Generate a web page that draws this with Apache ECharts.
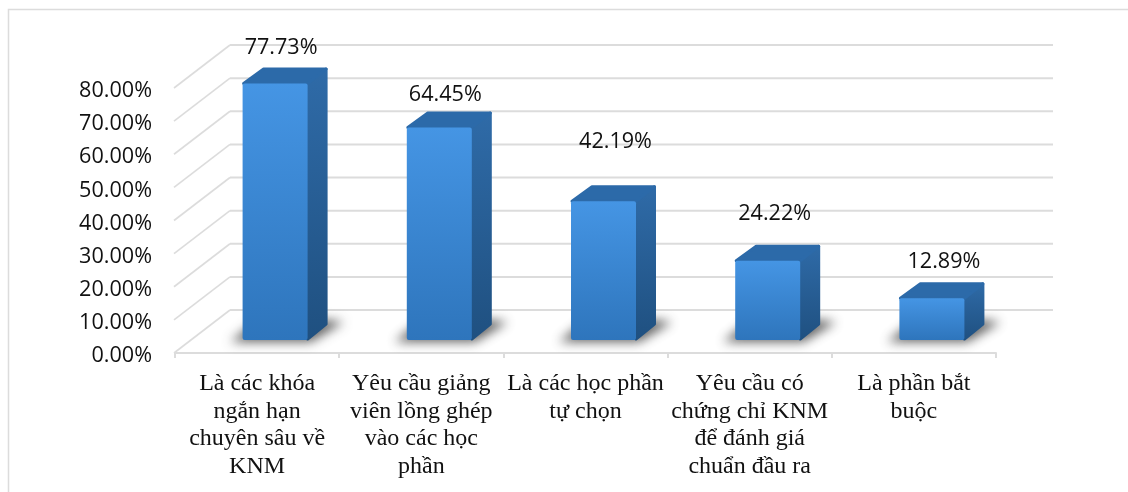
<!DOCTYPE html>
<html><head><meta charset="utf-8">
<style>html,body{margin:0;padding:0;background:#fff;overflow:hidden}#c{width:1128px;height:492px}</style>
<script src="https://cdn.jsdelivr.net/npm/echarts@6/dist/echarts.min.js"></script>
</head><body><div id="c"></div>
<script>
const categories = [
  'Là các khóa\nngắn hạn\nchuyên sâu về\nKNM',
  'Yêu cầu giảng\nviên lồng ghép\nvào các học\nphần',
  'Là các học phần\ntự chọn',
  'Yêu cầu có\nchứng chỉ KNM\nđể đánh giá\nchuẩn đầu ra',
  'Là phần bắt\nbuộc'
];
const values = [77.73, 64.45, 42.19, 24.22, 12.89];
const yTicks = [0, 10, 20, 30, 40, 50, 60, 70, 80];
// manual data-label placement, relative to category centre / bar height
const labelDx = [24, 24, 30, 25, 30];
const labelDy = [-48, -45, -71, -59, -48];

const WALL_DX = 55, WALL_DY = -43;
const FRONT_DX = 18, FRONT_DY = -13, BACK_DX = 38, BACK_DY = -29;
const BAR_W = 65;
const GRID = '#dcdcdc';
const OFF = 3000;

function grad(c0, c1){ return {type:'linear',x:0,y:0,x2:0,y2:1,colorStops:[{offset:0,color:c0},{offset:1,color:c1}]}; }

function renderWall(params, api){
  const p = api.coord([0, api.value(1)]);
  const x0 = params.coordSys.x, x1 = x0 + params.coordSys.width;
  const y = p[1];
  return {type:'group', children:[
    {type:'line', shape:{x1:x0-1,y1:y,x2:x0+WALL_DX,y2:y+WALL_DY}, style:{stroke:GRID,lineWidth:1.6}},
    {type:'line', shape:{x1:x0+WALL_DX,y1:y+WALL_DY,x2:x1+WALL_DX+2,y2:y+WALL_DY}, style:{stroke:GRID,lineWidth:2}}
  ]};
}

function renderBar(params, api){
  const i = api.value(0), v = api.value(1);
  const top = api.coord([i, v]), base = api.coord([i, 0]);
  const cx = top[0];
  const xl = cx + FRONT_DX - BAR_W/2, xr = xl + BAR_W;
  const yt = top[1] + FRONT_DY + 1, yb = base[1] + FRONT_DY;
  const bx = BACK_DX - FRONT_DX, by = BACK_DY - FRONT_DY;
  const r = 2;
  const sh = [[xl-12,yb+2],[xr+3,yb+2],[xr+bx+16,yb+by-2],[xr+bx,yb+by-4],[xl+10,yb+by]].map(q=>[q[0]-OFF,q[1]]);
  const sideG = grad('#2f6ba8','#1f5080');
  return {type:'group', children:[
    {type:'polygon', shape:{points:sh},
      style:{fill:'#555',shadowBlur:11,shadowOffsetX:OFF,shadowOffsetY:0,shadowColor:'rgba(70,70,70,0.85)'}},
    {type:'polygon', shape:{points:[[xr,yt],[xr+bx-1.5,yt+by+1.5],[xr+bx-1.5,yb+by],[xr,yb-1]]},
      style:{fill:sideG,stroke:sideG,lineWidth:3,lineJoin:'round'}},
    {type:'polygon', shape:{points:[[xl+1,yt],[xl+bx+1,yt+by+1.5],[xr+bx-1.5,yt+by+1.5],[xr,yt]]},
      style:{fill:'#2c6aa9',stroke:'#2c6aa9',lineWidth:3,lineJoin:'round'}},
    {type:'rect', shape:{x:xl,y:yt,width:BAR_W,height:yb-yt,r:r},
      style:{fill:grad('#4595e4','#2e75bc')}},
    {type:'text', style:{x:cx+labelDx[i], y:top[1]+labelDy[i], text:values[i].toFixed(2)+'%',
      textAlign:'center', textVerticalAlign:'middle', fill:'#111', font:'21.6px "Open Sans"'}}
  ]};
}

const chart = echarts.init(document.getElementById('c'), null, {renderer:'canvas'});
chart.setOption({
  animation:false,
  backgroundColor:'#fff',
  graphic:[{type:'polyline', silent:true, shape:{points:[[8.5,500],[8.5,9.5],[1140,9.5]]},
    style:{stroke:'#dcdcdc',fill:null,lineWidth:1.5}}],
  grid:{left:175,right:132,top:88,bottom:139},
  xAxis:{type:'category',data:categories,
    axisLine:{lineStyle:{color:GRID,width:2}},
    axisTick:{show:true,length:5,lineStyle:{color:GRID,width:2}},
    axisLabel:{interval:0,margin:17,color:'#111',fontFamily:'Liberation Serif',fontSize:24,lineHeight:27.5}},
  yAxis:{type:'value',min:0,max:80,interval:10,
    axisLine:{show:false},axisTick:{show:false},splitLine:{show:false},
    axisLabel:{margin:23,color:'#111',fontFamily:'Open Sans',fontSize:21.6,formatter:v=>v.toFixed(2)+'%',verticalAlign:'top',lineHeight:6}},
  series:[
    {type:'custom',name:'walls',z:1,silent:true,clip:false,renderItem:renderWall,
      data:yTicks.map(t=>[0,t]),encode:{x:0,y:1}},
    {type:'custom',name:'bars',z:2,clip:false,renderItem:renderBar,
      data:values.map((v,i)=>[i,v]),encode:{x:0,y:1}}
  ]
});
</script></body></html>
